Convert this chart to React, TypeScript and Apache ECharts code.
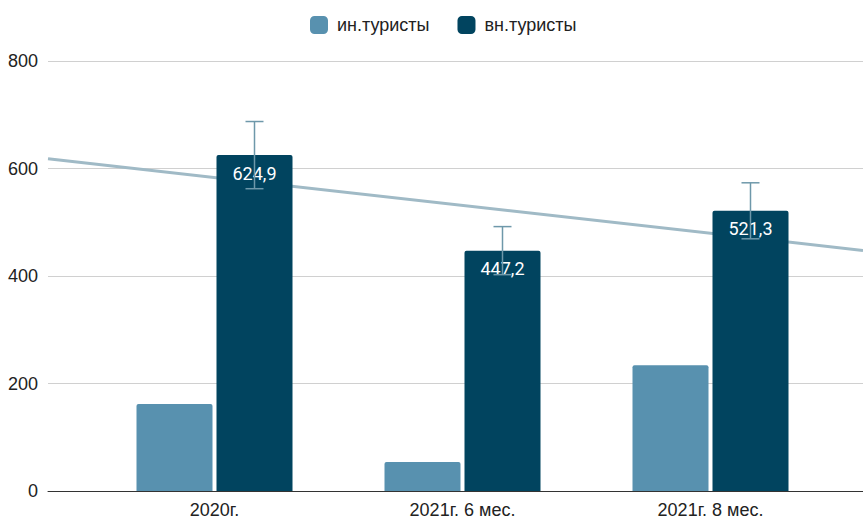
import React, { useEffect, useRef } from "react";
import * as echarts from "echarts";

const categories = ["2020г.", "2021г. 6 мес.", "2021г. 8 мес."];
const foreignTourists = [162, 54, 234];
const domesticTourists = [624.9, 447.2, 521.3];
const errorLow = [562.4, 402.5, 469.2];
const errorHigh = [687.4, 491.9, 573.4];
const trendEnds = [618, 447.5];
const yTicks = [0, 200, 400, 600, 800];

const LIGHT = "#5891af";
const DARK = "#01445f";
const BAR_W = 76;
const BAR_GAP_PX = 4;

export default function App() {
  const ref = useRef<HTMLDivElement>(null);
  useEffect(() => {
    if (!ref.current) return;
    const chart = echarts.init(ref.current, undefined, { renderer: "svg" });
    const errData = categories.map((_, i) => [i, errorLow[i], errorHigh[i]]);
    chart.setOption({
      animation: false,
      legend: {
        top: 11,
        left: 305,
        itemWidth: 18,
        itemHeight: 18,
        itemGap: 28,
        icon: "roundRect",
        data: ["ин.туристы", "вн.туристы"],
        textStyle: { fontSize: 18, color: "#222", fontFamily: "Liberation Sans", padding: [0, 0, 0, 4] },
      },
      grid: [
        { left: 48, right: 0, top: 61, bottom: 28 },
        { left: 90.5, right: 28.5, top: 61, bottom: 28 },
      ],
      xAxis: [
        {
          type: "value",
          gridIndex: 0,
          min: 0,
          max: 1,
          axisLine: { show: true, lineStyle: { color: "#333", width: 1 } },
          axisTick: { show: false },
          axisLabel: { show: false },
          splitLine: { show: false },
        },
        {
          type: "category",
          gridIndex: 1,
          data: categories,
          axisLine: { show: false },
          axisTick: { show: false },
          axisLabel: { fontSize: 18, color: "#222", margin: 10, fontFamily: "Liberation Sans" },
        },
      ],
      yAxis: [
        {
          type: "value",
          gridIndex: 0,
          min: yTicks[0],
          max: yTicks[yTicks.length - 1],
          interval: 200,
          axisLine: { show: false },
          axisTick: { show: false },
          axisLabel: { fontSize: 18, color: "#222", margin: 10, fontFamily: "Liberation Sans" },
          splitLine: { lineStyle: { color: "#d0d0d0", width: 1 } },
        },
        {
          type: "value",
          gridIndex: 1,
          min: 0,
          max: 800,
          interval: 200,
          show: false,
          splitLine: { show: false },
        },
      ],
      series: [
        {
          name: "trend",
          type: "line",
          xAxisIndex: 0,
          yAxisIndex: 0,
          data: [
            [0, trendEnds[0]],
            [1, trendEnds[1]],
          ],
          symbol: "none",
          lineStyle: { color: "#a0bac6", width: 3 },
          z: 1,
          silent: true,
        },
        {
          name: "ин.туристы",
          type: "bar",
          xAxisIndex: 1,
          yAxisIndex: 1,
          data: foreignTourists,
          barWidth: BAR_W,
          barGap: (BAR_GAP_PX / BAR_W) * 100 + "%",
          itemStyle: { color: LIGHT, borderRadius: [2, 2, 0, 0] },
          z: 2,
        },
        {
          name: "вн.туристы",
          type: "bar",
          xAxisIndex: 1,
          yAxisIndex: 1,
          data: domesticTourists,
          barWidth: BAR_W,
          itemStyle: { color: DARK, borderRadius: [2, 2, 0, 0] },
          label: {
            show: true,
            position: "insideTop",
            distance: 9,
            color: "#ffffff",
            fontSize: 18,
            fontFamily: "Roboto",
            formatter: (p: any) => String(p.value).replace(".", ","),
          },
          z: 2,
        },
        {
          name: "err",
          type: "custom",
          xAxisIndex: 1,
          yAxisIndex: 1,
          data: errData,
          z: 3,
          renderItem: (params: any, api: any) => {
            const i = api.value(0);
            const lo = api.coord([i, api.value(1)]);
            const hi = api.coord([i, api.value(2)]);
            const x = lo[0] + (BAR_W + BAR_GAP_PX) / 2;
            const half = 9;
            const style = { stroke: "#6e98aa", lineWidth: 1.5 };
            return {
              type: "group",
              children: [
                { type: "line", shape: { x1: x, y1: lo[1], x2: x, y2: hi[1] }, style },
                { type: "line", shape: { x1: x - half, y1: hi[1], x2: x + half, y2: hi[1] }, style },
                { type: "line", shape: { x1: x - half, y1: lo[1], x2: x + half, y2: lo[1] }, style },
              ],
            };
          },
        },
      ],
    });
    return () => chart.dispose();
  }, []);
  return (
    <div
      ref={ref}
      style={{ position: "fixed", left: 0, top: 0, width: 863, height: 519, background: "#fff" }}
    />
  );
}
